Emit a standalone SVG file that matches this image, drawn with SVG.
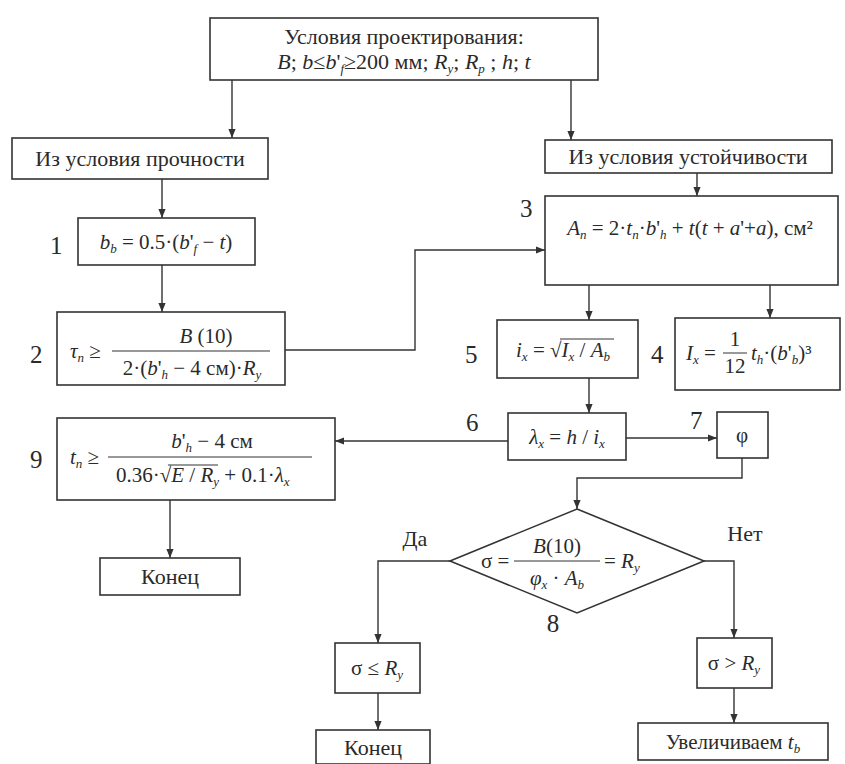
<svg xmlns="http://www.w3.org/2000/svg" width="845" height="764" viewBox="0 0 845 764">
<style>
rect,polygon{fill:#fff;stroke:#333;stroke-width:1.6}
.c path,.c line{fill:none;stroke:#333;stroke-width:1.4}
text{fill:#2a2a2a}
.h{font-size:22px;text-anchor:middle}
.f{font-size:21px}
.m{text-anchor:middle}
.i{font-style:italic}
.s{font-size:13px;font-style:italic}
.n{font-size:25px}
.fl{stroke:#333;stroke-width:1}
</style>
<defs>
<marker id="a" viewBox="0 0 10 10" refX="10" refY="5" markerWidth="9" markerHeight="9" markerUnits="userSpaceOnUse" orient="auto"><path d="M0,1 L10,5 L0,9 z" fill="#333"/></marker>
</defs>
<rect width="845" height="764" style="fill:#fff;stroke:none"/>
<g font-family="Liberation Serif">

<g class="c" id="connectors">
<line x1="232" y1="80" x2="232" y2="138" marker-end="url(#a)"/>
<line x1="571" y1="80" x2="571" y2="140" marker-end="url(#a)"/>
<line x1="162" y1="179" x2="162" y2="218" marker-end="url(#a)"/>
<line x1="697" y1="173" x2="697" y2="196" marker-end="url(#a)"/>
<line x1="162" y1="265" x2="162" y2="312" marker-end="url(#a)"/>
<path d="M285,350 H415 V250 H545" marker-end="url(#a)"/>
<line x1="589" y1="285" x2="589" y2="320" marker-end="url(#a)"/>
<line x1="770" y1="285" x2="770" y2="318" marker-end="url(#a)"/>
<line x1="589" y1="378" x2="589" y2="413" marker-end="url(#a)"/>
<line x1="626" y1="438" x2="717" y2="438" marker-end="url(#a)"/>
<line x1="508" y1="441" x2="335" y2="441" marker-end="url(#a)"/>
<line x1="170" y1="500" x2="170" y2="558" marker-end="url(#a)"/>
<path d="M742,458 V478 H577 V509" marker-end="url(#a)"/>
<path d="M450,561 H378 V643" marker-end="url(#a)"/>
<path d="M704,561 H734 V638" marker-end="url(#a)"/>
<line x1="378" y1="693" x2="378" y2="730" marker-end="url(#a)"/>
<line x1="734" y1="688" x2="734" y2="723" marker-end="url(#a)"/>
</g>

<g id="n-top">
<rect x="210" y="18" width="388" height="62"/>
<text x="404" y="44" class="h">Условия проектирования:</text>
<text x="404" y="69" class="h"><tspan class="i">B</tspan>; <tspan class="i">b</tspan>≤<tspan class="i">b</tspan>'<tspan class="s" dy="4">f</tspan><tspan dy="-4">≥200 мм; </tspan><tspan class="i">R</tspan><tspan class="s" dy="4">y</tspan><tspan dy="-4">; </tspan><tspan class="i">R</tspan><tspan class="s" dy="4">p</tspan><tspan dy="-4"> ; </tspan><tspan class="i">h</tspan>; <tspan class="i">t</tspan></text>
</g>

<g id="n-strength">
<rect x="12" y="138" width="256" height="41"/>
<text x="140" y="166" class="h">Из условия прочности</text>
</g>

<g id="n-stability">
<rect x="545" y="140" width="287" height="33"/>
<text x="688" y="164" class="h">Из условия устойчивости</text>
</g>

<g id="n1">
<text x="50" y="254" class="n">1</text>
<rect x="78" y="218" width="177" height="47"/>
<text x="166" y="249" class="f m"><tspan class="i">b</tspan><tspan class="s" dy="4">b</tspan><tspan dy="-4"> = 0.5·(</tspan><tspan class="i">b</tspan>'<tspan class="s" dy="4">f</tspan><tspan dy="-4"> − </tspan><tspan class="i">t</tspan>)</text>
</g>

<g id="n2">
<text x="30" y="363" class="n">2</text>
<rect x="57" y="312" width="228" height="73"/>
<text x="70" y="358" class="f"><tspan class="i">τ</tspan><tspan class="s" dy="4">n</tspan><tspan dy="-4"> ≥</tspan></text>
<line x1="112" y1="351" x2="270" y2="351" class="fl"/>
<text x="206" y="343" class="f m"><tspan class="i">B</tspan> (10)</text>
<text x="192" y="375" class="f m">2·(<tspan class="i">b</tspan>'<tspan class="s" dy="4">h</tspan><tspan dy="-4"> − 4 см)·</tspan><tspan class="i">R</tspan><tspan class="s" dy="4">y</tspan></text>
</g>

<g id="n3">
<text x="520" y="217" class="n">3</text>
<rect x="545" y="196" width="293" height="89"/>
<text x="690" y="235" class="f m"><tspan class="i">A</tspan><tspan class="s" dy="4">n</tspan><tspan dy="-4"> = 2·</tspan><tspan class="i">t</tspan><tspan class="s" dy="4">n</tspan><tspan dy="-4">·</tspan><tspan class="i">b</tspan>'<tspan class="s" dy="4">h</tspan><tspan dy="-4"> + </tspan><tspan class="i">t</tspan>(<tspan class="i">t</tspan> + <tspan class="i">a</tspan>'+<tspan class="i">a</tspan>), см²</text>
</g>

<g id="n5">
<text x="465" y="363" class="n">5</text>
<rect x="497" y="320" width="141" height="58"/>
<text x="516" y="357" class="f"><tspan class="i">i</tspan><tspan class="s" dy="4">x</tspan><tspan dy="-4"> = √</tspan><tspan class="i">I</tspan><tspan class="s" dy="4">x</tspan><tspan dy="-4"> / </tspan><tspan class="i">A</tspan><tspan class="s" dy="4">b</tspan></text>
<line x1="560" y1="339" x2="614" y2="339" class="fl"/>
</g>

<g id="n4">
<text x="651" y="363" class="n">4</text>
<rect x="675" y="318" width="165" height="72"/>
<text x="686" y="360" class="f"><tspan class="i">I</tspan><tspan class="s" dy="4">x</tspan><tspan dy="-4"> =</tspan></text>
<text x="735" y="346" class="f m">1</text>
<line x1="723" y1="353" x2="747" y2="353" class="fl"/>
<text x="735" y="373" class="f m">12</text>
<text x="751" y="360" class="f"><tspan class="i">t</tspan><tspan class="s" dy="4">h</tspan><tspan dy="-4">·(</tspan><tspan class="i">b</tspan>'<tspan class="s" dy="4">b</tspan><tspan dy="-4">)³</tspan></text>
</g>

<g id="n6">
<text x="466" y="431" class="n">6</text>
<rect x="508" y="413" width="118" height="47"/>
<text x="567" y="444" class="f m"><tspan class="i">λ</tspan><tspan class="s" dy="4">x</tspan><tspan dy="-4"> = </tspan><tspan class="i">h</tspan> / <tspan class="i">i</tspan><tspan class="s" dy="4">x</tspan></text>
</g>

<g id="n7">
<text x="690" y="429" class="n">7</text>
<rect x="717" y="412" width="51" height="46"/>
<text x="742" y="442" class="f m">φ</text>
</g>

<g id="n9">
<text x="30" y="468" class="n">9</text>
<rect x="57" y="418" width="278" height="82"/>
<text x="70" y="464" class="f"><tspan class="i">t</tspan><tspan class="s" dy="4">n</tspan><tspan dy="-4"> ≥</tspan></text>
<line x1="108" y1="457" x2="312" y2="457" class="fl"/>
<text x="212" y="448" class="f m"><tspan class="i">b</tspan>'<tspan class="s" dy="4">h</tspan><tspan dy="-4"> − 4 см</tspan></text>
<text x="116" y="482" class="f">0.36·√<tspan class="i">E</tspan> / <tspan class="i">R</tspan><tspan class="s" dy="4">y</tspan><tspan dy="-4"> + 0.1·</tspan><tspan class="i">λ</tspan><tspan class="s" dy="4">x</tspan></text>
<line x1="168" y1="465" x2="218" y2="465" class="fl"/>
</g>

<g id="n-end1">
<rect x="100" y="558" width="140" height="37"/>
<text x="170" y="584" class="h">Конец</text>
</g>

<g id="n8">
<polygon points="577,509 704,561 577,613 450,561"/>
<text x="481" y="568" class="f">σ =</text>
<line x1="514" y1="561" x2="600" y2="561" class="fl"/>
<text x="557" y="553" class="f m"><tspan class="i">B</tspan>(10)</text>
<text x="557" y="585" class="f m"><tspan class="i">φ</tspan><tspan class="s" dy="4">x</tspan><tspan dy="-4"> · </tspan><tspan class="i">A</tspan><tspan class="s" dy="4">b</tspan></text>
<text x="604" y="568" class="f">= <tspan class="i">R</tspan><tspan class="s" dy="4">y</tspan></text>
<text x="553" y="632" class="n m">8</text>
<text x="415" y="546" class="h">Да</text>
<text x="745" y="541" class="h">Нет</text>
</g>

<g id="n-le">
<rect x="335" y="643" width="85" height="50"/>
<text x="377" y="675" class="f m">σ ≤ <tspan class="i">R</tspan><tspan class="s" dy="4">y</tspan></text>
</g>

<g id="n-gt">
<rect x="697" y="638" width="75" height="50"/>
<text x="734" y="670" class="f m">σ &gt; <tspan class="i">R</tspan><tspan class="s" dy="4">y</tspan></text>
</g>

<g id="n-end2">
<rect x="316" y="730" width="114" height="34"/>
<text x="373" y="755" class="h">Конец</text>
</g>

<g id="n-inc">
<rect x="638" y="723" width="190" height="37"/>
<text x="733" y="749" class="f m">Увеличиваем <tspan class="i">t</tspan><tspan class="s" dy="4">b</tspan></text>
</g>
</g>
</svg>
